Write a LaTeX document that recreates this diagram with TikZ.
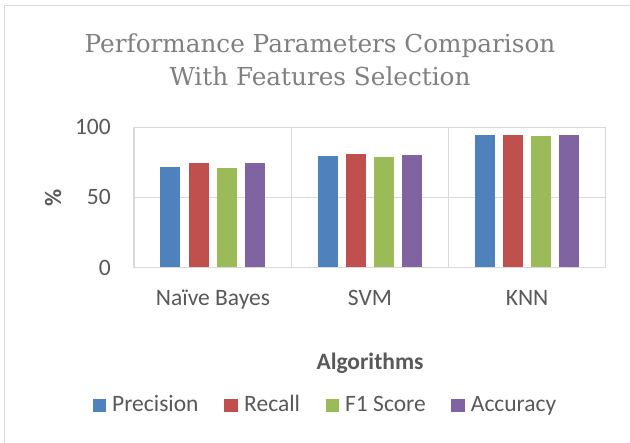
\documentclass[tikz,border=0pt]{standalone}
\usepackage{fontspec}
\setmainfont{Carlito}
\newfontfamily\titlefont{DejaVu Serif}
\definecolor{txtgray}{HTML}{595959}
\definecolor{ttlgray}{HTML}{808080}
\definecolor{gridgray}{HTML}{D9D9D9}
\definecolor{cprec}{HTML}{4F81BD}
\definecolor{crec}{HTML}{C0504D}
\definecolor{cfone}{HTML}{9BBB59}
\definecolor{cacc}{HTML}{8064A2}
\tikzset{
  gridline/.style={draw=gridgray, line width=1.3pt},
  axislabel/.style={text=txtgray, font=\fontsize{23.5}{28}\selectfont, inner sep=0pt, anchor=base},
  ticklabel/.style={axislabel, anchor=base east},
  legkey/.style={minimum width=13.4pt, minimum height=13.4pt, inner sep=0pt, anchor=south west},
  legtext/.style={axislabel, anchor=base west},
  titleline/.style={text=ttlgray, font=\titlefont\fontsize{24.7}{30}\selectfont, inner sep=0pt, anchor=base},
}
\begin{document}
\begin{tikzpicture}[x=1pt,y=-1pt]
\useasboundingbox (0,0) rectangle (630,443);
\fill[white] (0,0) rectangle (630,443);
% chart frame (left and top edges)
\draw[gridline] (4.5,443) -- (4.5,5.5) -- (630,5.5);
% title
\node[titleline] (title1) at (320,52.3) {Performance Parameters Comparison};
\node[titleline] (title2) at (320,85.7) {With Features Selection};
% plot area: x 134..605.7, y 267.3 (0) .. 127.3 (100)
\coordinate (pa) at (134,127.3);
\coordinate (pb) at (605.7,267.3);
\draw[gridline] (134,197.3) -- (605.7,197.3);
\draw[gridline] (291.2,127.3) -- (291.2,267.3);
\draw[gridline] (448.5,127.3) -- (448.5,267.3);
% bars: category centre, then four values
\foreach \cx/\va/\vb/\vc/\vd in {212.6/71.4/74.3/70.9/74.3, 369.9/79.3/80.9/78.8/80.4, 527.1/94.3/94.3/94.0/94.5}{
  \foreach \k/\v/\col in {-1.5/\va/cprec, -0.5/\vb/crec, 0.5/\vc/cfone, 1.5/\vd/cacc}{
    \fill[\col] ({\cx+\k*28.2-10},267.3) rectangle ({\cx+\k*28.2+10},{267.3-1.4*\v});
  }
}
\draw[gridline] (pa) rectangle (pb);
% axis ticks
\node[ticklabel] (t100) at (111,134.3) {100};
\node[ticklabel] (t50) at (111,205) {50};
\node[ticklabel] (t0) at (111,275.5) {0};
\node[text=txtgray, font=\fontsize{23.5}{28}\selectfont\bfseries, inner sep=0pt, rotate=90] (ylab) at (53,198) {\%};
% categories
\node[axislabel] (cnb) at (213,306) {Naïve Bayes};
\node[axislabel] (csvm) at (369.9,306) {SVM};
\node[axislabel] (cknn) at (527.1,306) {KNN};
\node[axislabel, font=\fontsize{23.5}{28}\selectfont\bfseries] (xlab) at (370,369.3) {Algorithms};
% legend
\node[legkey, fill=cprec] (k1) at (92.3,412.7) {};
\node[legtext] (l1) at (112,412) {Precision};
\node[legkey, fill=crec] (k2) at (224,412.7) {};
\node[legtext] (l2) at (244,412) {Recall};
\node[legkey, fill=cfone] (k3) at (325.5,412.7) {};
\node[legtext] (l3) at (345,412) {F1 Score};
\node[legkey, fill=cacc] (k4) at (451,412.7) {};
\node[legtext] (l4) at (470.7,412) {Accuracy};
\end{tikzpicture}
\end{document}
